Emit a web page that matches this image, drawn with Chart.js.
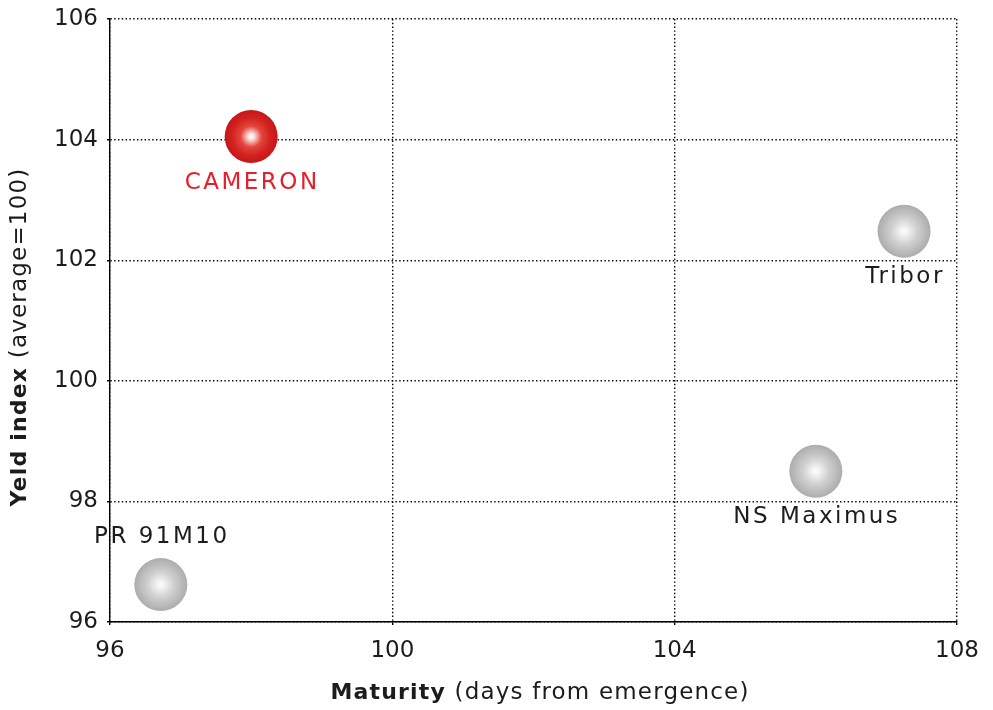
<!DOCTYPE html>
<html>
<head>
<meta charset="utf-8">
<script src="https://cdn.jsdelivr.net/npm/chart.js@4/dist/chart.umd.min.js"></script>
<style>
html,body{margin:0;padding:0;background:#fff;}
#wrap{width:993px;height:710px;position:relative;}
</style>
</head>
<body>
<div id="wrap"><canvas id="c" width="993" height="710"></canvas></div>
<script>
const varieties = ['CAMERON', 'Tribor', 'NS Maximus', 'PR 91M10'];
const maturity = [98.0, 107.25, 106.0, 96.72];
const yieldIndex = [104.05, 102.48, 98.5, 96.62];
const xTickValues = [96, 100, 104, 108];
const yTickValues = [96, 98, 100, 102, 104, 106];
const xTitleBold = 'Maturity';
const xTitleRest = ' (days from emergence)';
const yTitleBold = 'Yeld index';
const yTitleRest = ' (average=100)';

const FONT = '"DejaVu Sans", sans-serif';
const TEXT = '#1c1c1c';
const highlight = 'CAMERON';

function bubbleFill(ctx) {
  const chart = ctx.chart;
  const i = ctx.dataIndex;
  const isRed = varieties[i] === highlight;
  const base = isRed ? '#cc1a1c' : '#b4b4b4';
  if (!chart.chartArea || !chart.scales.x) return base;
  const px = chart.scales.x.getPixelForValue(maturity[i]);
  const py = chart.scales.y.getPixelForValue(yieldIndex[i]);
  const r = 26.5;
  const g = chart.ctx.createRadialGradient(px, py, 0, px, py, r);
  if (isRed) {
    g.addColorStop(0, '#ffffff');
    g.addColorStop(0.1, '#fde8e4');
    g.addColorStop(0.4, '#e2463e');
    g.addColorStop(0.72, '#d3221f');
    g.addColorStop(1, '#c5171a');
  } else {
    g.addColorStop(0, '#ffffff');
    g.addColorStop(0.12, '#f4f4f4');
    g.addColorStop(0.5, '#cfcfcf');
    g.addColorStop(1, '#acacac');
  }
  return g;
}

const labelPlugin = {
  id: 'pointLabels',
  afterDatasetsDraw(chart) {
    const c = chart.ctx;
    c.save();
    c.font = '23px ' + FONT;
    c.letterSpacing = '2.5px';
    c.textAlign = 'center';
    c.textBaseline = 'middle';
    varieties.forEach((name, i) => {
      const px = chart.scales.x.getPixelForValue(maturity[i]);
      const py = chart.scales.y.getPixelForValue(yieldIndex[i]);
      const above = yieldIndex[i] < 97.5;
      c.fillStyle = name === highlight ? '#e3202b' : TEXT;
      c.fillText(name, px + 1, above ? py - 48 : py + 46);
    });
    c.restore();
  }
};

function drawTwoPart(c, boldTxt, regTxt, target) {
  const bold = 'bold 22px ' + FONT;
  const reg = '23px ' + FONT;
  c.letterSpacing = '0px';
  c.font = bold; let wb = c.measureText(boldTxt).width;
  c.font = reg; let wr = c.measureText(regTxt).width;
  const n = boldTxt.length + regTxt.length;
  const ls = Math.max(0, (target - wb - wr) / n);
  c.letterSpacing = ls.toFixed(2) + 'px';
  c.font = bold; wb = c.measureText(boldTxt).width;
  c.font = reg; wr = c.measureText(regTxt).width;
  const s = -(wb + wr) / 2;
  c.font = bold; c.fillText(boldTxt, s, 0);
  c.font = reg; c.fillText(regTxt, s + wb, 0);
}

const titlePlugin = {
  id: 'axisTitles',
  afterDraw(chart) {
    const c = chart.ctx;
    c.save();
    c.fillStyle = TEXT;
    c.textBaseline = 'middle';
    c.textAlign = 'left';
    c.save();
    c.translate(540, 693);
    drawTwoPart(c, xTitleBold, xTitleRest, 419);
    c.restore();
    c.translate(20, 337);
    c.rotate(-Math.PI / 2);
    drawTwoPart(c, yTitleBold, yTitleRest, 339);
    c.restore();
  }
};

new Chart(document.getElementById('c'), {
  type: 'bubble',
  data: {
    datasets: [{
      data: varieties.map((n, i) => ({ x: maturity[i], y: yieldIndex[i], r: 26.5 })),
      backgroundColor: bubbleFill,
      borderWidth: 0,
      hoverRadius: 0
    }]
  },
  options: {
    responsive: false,
    animation: false,
    events: [],
    layout: { autoPadding: false, padding: { top: 19, right: 36, left: 0, bottom: 0 } },
    plugins: { legend: { display: false }, tooltip: { enabled: false } },
    scales: {
      x: {
        type: 'linear',
        min: 96, max: 108,
        afterBuildTicks: s => { s.ticks = xTickValues.map(v => ({ value: v })); },
        afterFit: s => { s.height = 88; s.paddingLeft = 0; s.paddingRight = 0; },
        ticks: { font: { family: FONT, size: 23 }, color: TEXT, padding: 12, maxRotation: 0 },
        grid: { color: '#000', lineWidth: 1.4, tickLength: 3, tickColor: '#000' },
        border: { display: true, color: '#000', width: 1.4, dash: [1.4, 2.4] }
      },
      y: {
        type: 'linear',
        min: 96, max: 106,
        afterBuildTicks: s => { s.ticks = yTickValues.map(v => ({ value: v })); },
        afterFit: s => { s.width = 110; s.paddingTop = 0; s.paddingBottom = 0; },
        ticks: { font: { family: FONT, size: 23 }, color: TEXT, padding: 9 },
        grid: { color: '#000', lineWidth: 1.4, tickLength: 3, tickColor: '#000' },
        border: { display: true, color: '#000', width: 1.4, dash: [1.4, 2.4] }
      }
    }
  },
  plugins: [labelPlugin, titlePlugin]
});
</script>
</body>
</html>
